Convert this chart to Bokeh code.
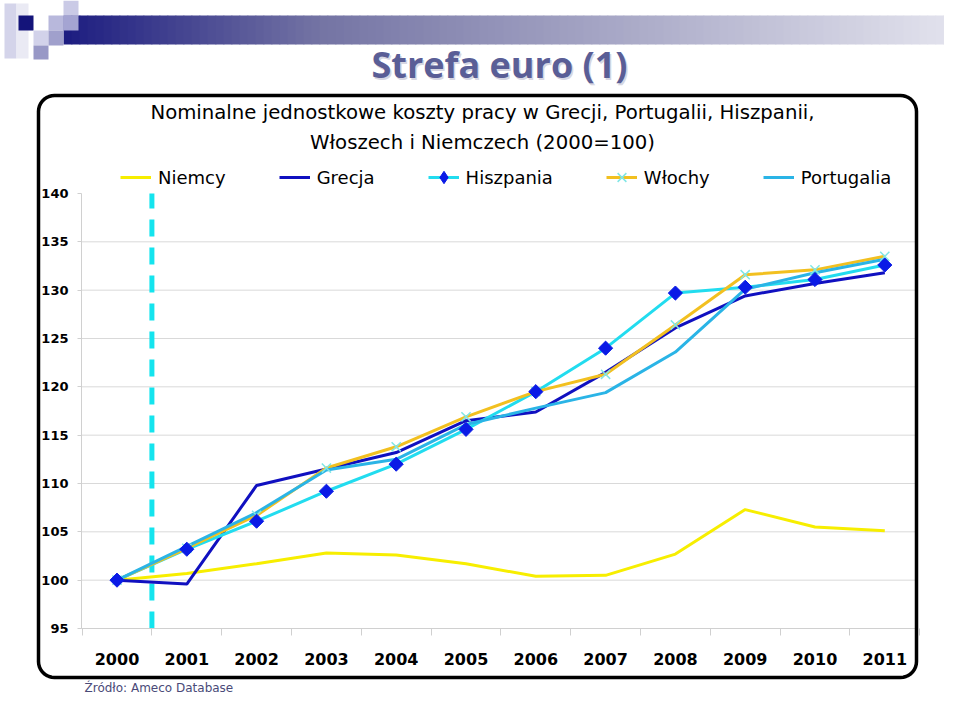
import numpy as np
from bokeh.plotting import figure
from bokeh.models import (Range1d, FixedTicker, Legend, LegendItem, Label,
                          BoxAnnotation, PolyAnnotation)
from bokeh.embed import file_html
from bokeh.resources import INLINE

# ---------------- data ----------------
years = [2000, 2001, 2002, 2003, 2004, 2005, 2006, 2007, 2008, 2009, 2010, 2011]
year_labels = [str(y) for y in years]
y_ticks = [95, 100, 105, 110, 115, 120, 125, 130, 135, 140]

niemcy = [100.0, 100.7, 101.7, 102.8, 102.6, 101.7, 100.4, 100.5, 102.7, 107.3, 105.5, 105.1]
grecja = [100.0, 99.6, 109.8, 111.5, 113.2, 116.5, 117.4, 121.5, 126.1, 129.4, 130.7, 131.8]
hiszpania = [100.0, 103.2, 106.1, 109.2, 112.0, 115.6, 119.5, 124.0, 129.7, 130.3, 131.1, 132.6]
wlochy = [100.0, 103.3, 106.7, 111.6, 113.8, 116.9, 119.5, 121.3, 126.4, 131.6, 132.1, 133.5]
portugalia = [100.0, 103.5, 107.0, 111.4, 112.5, 116.1, 117.8, 119.4, 123.6, 130.1, 131.8, 133.2]

series_names = ["Niemcy", "Grecja", "Hiszpania", "Włochy", "Portugalia"]
euro_marker_year = 2000.5   # dashed vertical reference line

slide_title = "Strefa euro (1)"
chart_title = ["Nominalne jednostkowe koszty pracy w Grecji, Portugalii, Hiszpanii,",
               "Włoszech i Niemczech (2000=100)"]
source_text = "Źródło: Ameco Database"

# ---------------- layout (reference pixels) ----------------
W, H = 944, 695
OFF = 0                      # offset of the figure in the photographed page
STEP = 69.8                  # px per year
FIRST_X = 116.5              # px of first year
PX_LO, PX_HI = 628, 193      # px of lowest / highest y tick
PLOT_L, PLOT_R = 81, 916     # px of plot area left / right edges


def dx(px):
    return years[0] + (px - FIRST_X) / STEP


def dy(py):
    return y_ticks[0] + (PX_LO - py) * (y_ticks[-1] - y_ticks[0]) / (PX_LO - PX_HI)


p = figure(width=W, height=H, output_backend="svg", toolbar_location=None,
           x_range=Range1d(dx(OFF), dx(OFF + W)), y_range=Range1d(dy(OFF + H), dy(OFF)),
           min_border=0, min_border_left=0, min_border_right=0,
           min_border_top=0, min_border_bottom=0)
p.outline_line_color = None
p.background_fill_color = "white"
p.border_fill_color = "white"
p.xgrid.visible = False
p.ygrid.visible = False

GRID = "#d9d9d9"
AXIS = "#d0d0d0"

# horizontal gridlines (plot area only)
p.segment(x0=dx(PLOT_L), x1=dx(PLOT_R), y0=y_ticks[:-1], y1=y_ticks[:-1],
          line_color=GRID, line_width=1)

# y axis
ya = p.yaxis[0]
ya.fixed_location = dx(PLOT_L)
ya.bounds = (y_ticks[0], y_ticks[-1])
ya.ticker = FixedTicker(ticks=y_ticks)
ya.axis_line_color = AXIS
ya.major_tick_line_color = AXIS
ya.major_tick_in = 0
ya.major_tick_out = 4
ya.minor_tick_line_color = None
ya.major_label_standoff = 9
ya.major_label_text_font = "DejaVu Sans"
ya.major_label_text_font_style = "bold"
ya.major_label_text_font_size = "13px"
ya.major_label_text_color = "black"

# x axis
xa = p.xaxis[0]
xa.fixed_location = y_ticks[0]
xa.bounds = (dx(PLOT_L), dx(PLOT_R))
xa.ticker = FixedTicker(ticks=years, minor_ticks=[years[0] - 0.5] + [y + 0.5 for y in years])
xa.major_label_overrides = {y: lbl for y, lbl in zip(years, year_labels)}
xa.axis_line_color = AXIS
xa.major_tick_line_color = None
xa.major_tick_in = 0
xa.major_tick_out = 0
xa.minor_tick_line_color = AXIS
xa.minor_tick_in = 0
xa.minor_tick_out = 7
xa.major_label_standoff = 17
xa.major_label_text_font = "DejaVu Sans"
xa.major_label_text_font_style = "bold"
xa.major_label_text_font_size = "16px"
xa.major_label_text_color = "black"

# dashed reference line
p.line([euro_marker_year, euro_marker_year], [y_ticks[0], y_ticks[-1]],
       line_color="#14e4ee", line_width=5, line_dash="17 11")

# series
C_NIEMCY = "#f7ee00"
C_GRECJA = "#1010c0"
C_HISZP = "#22dcef"
C_HISZP_M = "#0a1ae6"
C_WLOCHY = "#f2c020"
C_WLOCHY_M = "#80e6e6"
C_PORT = "#2ab4e6"

r_n = p.line(years, niemcy, line_color=C_NIEMCY, line_width=3)
r_g = p.line(years, grecja, line_color=C_GRECJA, line_width=3)
r_h = p.line(years, hiszpania, line_color=C_HISZP, line_width=3)
r_w = p.line(years, wlochy, line_color=C_WLOCHY, line_width=3)
r_p = p.line(years, portugalia, line_color=C_PORT, line_width=3)
r_wm = p.scatter(years, wlochy, marker="x", size=13, line_color=C_WLOCHY_M, line_width=1.5)
r_hm = p.scatter(years, hiszpania, marker="square", angle=np.pi / 4, size=10,
                 fill_color=C_HISZP_M, line_color=C_HISZP_M)
# legend-only proxy markers (legend markers are drawn unrotated); NaN -> not drawn in the plot
r_hleg = p.scatter(x=[np.nan], y=[np.nan], marker="diamond", size=12,
                   fill_color=C_HISZP_M, line_color=C_HISZP_M)
r_wleg = p.scatter(x=[np.nan], y=[np.nan], marker="x", size=14,
                   line_color=C_WLOCHY_M, line_width=1.5)

legend = Legend(items=[
    LegendItem(label=series_names[0], renderers=[r_n]),
    LegendItem(label=series_names[1], renderers=[r_g]),
    LegendItem(label=series_names[2], renderers=[r_h, r_hleg]),
    LegendItem(label=series_names[3], renderers=[r_w, r_wleg]),
    LegendItem(label=series_names[4], renderers=[r_p]),
], orientation="horizontal", location=(120 - OFF, OFF + H - 193),
    glyph_width=31, glyph_height=32, label_standoff=7, spacing=53, padding=5, margin=0,
    label_text_font="DejaVu Sans", label_text_font_size="18px", label_text_color="black",
    background_fill_color="white", background_fill_alpha=0.0, border_line_color=None)
p.add_layout(legend)

# ---------------- decorations ----------------
def hex_to_rgb(h):
    h = h.lstrip("#")
    return tuple(int(h[i:i + 2], 16) for i in (0, 2, 4))


def lerp_color(stops, x):
    for (xa_, ca), (xb_, cb) in zip(stops[:-1], stops[1:]):
        if xa_ <= x <= xb_:
            t = (x - xa_) / (xb_ - xa_)
            a, b = hex_to_rgb(ca), hex_to_rgb(cb)
            return "#%02x%02x%02x" % tuple(int(round(a[k] + (b[k] - a[k]) * t)) for k in range(3))
    return stops[-1][1]


def box(l, t, r, b, color):
    p.add_layout(BoxAnnotation(left=dx(l), right=dx(r), top=dy(t), bottom=dy(b),
                               fill_color=color, fill_alpha=1.0, line_color=None))


# gradient header bar
bar_stops = [(63, "#1c1c80"), (320, "#7474a4"), (960, "#e4e4ee")]
bx = 63
while bx < 960:
    nx = min(bx + 8, 960)
    box(bx, 15, nx + 0.8, 44, lerp_color(bar_stops, (bx + nx) / 2))
    bx = nx

# header squares
box(4, 3, 16, 58, "#d4d4ea")
box(16, 3, 28, 58, "#eaeaf4")
for (l, t, r, b, c) in [(18, 15, 33, 30, "#14147a"),
                        (48, 15, 63, 30, "#b8b8dc"),
                        (63, 0, 78, 15, "#cacae6"),
                        (63, 15, 78, 30, "#a4a4d2"),
                        (33, 30, 48, 45, "#d2d2ea"),
                        (48, 30, 63, 45, "#a0a0cc"),
                        (33, 45, 48, 59, "#9898c6")]:
    box(l, t, r, b, c)

# slide title with light shadow
p.add_layout(Label(x=dx(500.5), y=dy(65.5), text=slide_title, text_align="center",
                   text_baseline="middle", text_font="Open Sans", text_font_style="bold",
                   text_font_size="36px", text_color="#d6d6e2"))
p.add_layout(Label(x=dx(499), y=dy(64), text=slide_title, text_align="center",
                   text_baseline="middle", text_font="Open Sans", text_font_style="bold",
                   text_font_size="36px", text_color="#5a5e96"))


# rounded chart box
def rounded_rect(l, t, r, b, rad, n=10):
    xs, ys = [], []
    corners = [(r - rad, t + rad, -90, 0), (r - rad, b - rad, 0, 90),
               (l + rad, b - rad, 90, 180), (l + rad, t + rad, 180, 270)]
    for cx, cy, a0, a1 in corners:
        for a in np.linspace(np.radians(a0), np.radians(a1), n):
            xs.append(dx(cx + rad * np.cos(a)))
            ys.append(dy(cy + rad * np.sin(a)))
    return xs, ys


bxs, bys = rounded_rect(38, 95, 916, 677, 16)
p.add_layout(PolyAnnotation(xs=bxs, ys=bys, line_color="black", line_alpha=1.0,
                            line_width=3.5, fill_alpha=0.0))

# chart title
for txt, cy in zip(chart_title, [112, 142]):
    p.add_layout(Label(x=dx(482), y=dy(cy), text=txt, text_align="center",
                       text_baseline="middle", text_font="DejaVu Sans",
                       text_font_size="19.7px", text_color="black"))

# source
p.add_layout(Label(x=dx(84), y=dy(687), text=source_text, text_align="left",
                   text_baseline="middle", text_font="DejaVu Sans",
                   text_font_size="12px", text_color="#4a4a78"))

open("out.html", "w").write(file_html(p, INLINE))
